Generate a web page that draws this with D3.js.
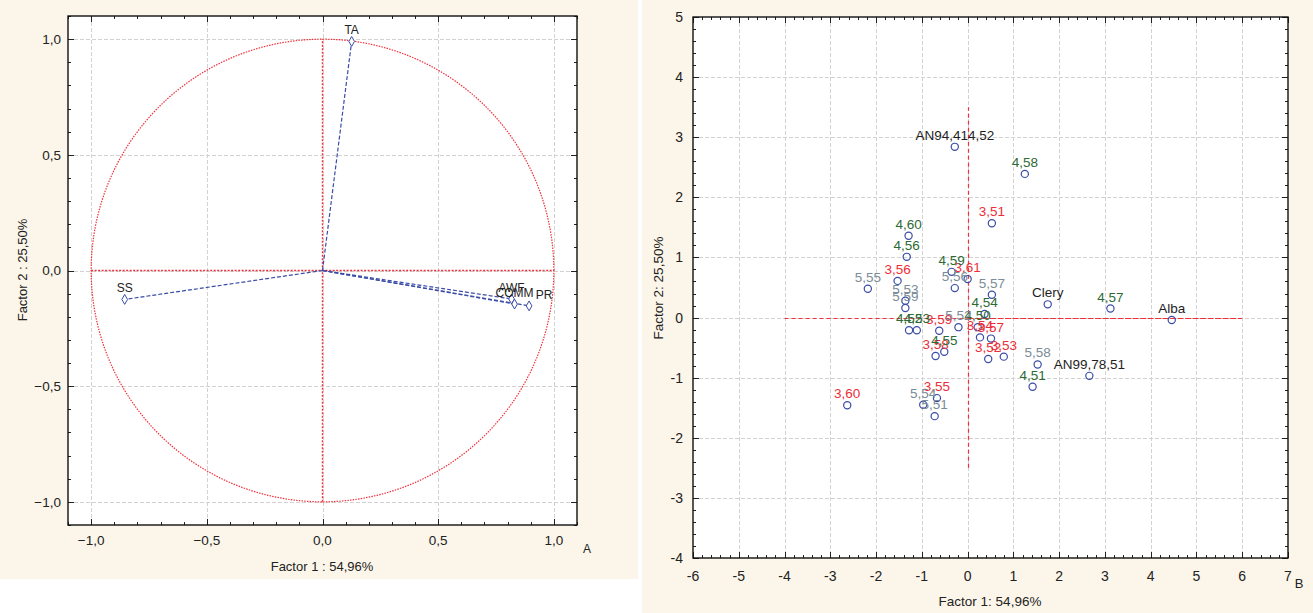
<!DOCTYPE html>
<html>
<head>
<meta charset="utf-8">
<script src="https://cdn.jsdelivr.net/npm/d3@7"></script>
<style>
  body { margin: 0; background: #ffffff; }
  svg text { font-family: "Liberation Sans", Arial, sans-serif; }
</style>
</head>
<body>
<div id="chart"></div>
<script>
// ---- data: panel A (loadings) ----
const varNames = ['TA', 'SS', 'AWF', 'COMM', 'PR'];
const varF1    = [0.126, -0.855, 0.817, 0.83, 0.893];
const varF2    = [0.99, -0.125, -0.123, -0.145, -0.153];
const loadTicks = [-1, -0.5, 0, 0.5, 1];

// ---- data: panel B (scores) ----
const obsLabels = ['AN94,414,52', 'Clery', 'Alba', 'AN99,78,51',
  '3,51', '3,52', '3,53', '3,54', '3,55', '3,56', '3,57', '3,58', '3,59', '3,60', '3,61',
  '4,50', '4,51', '4,52', '4,53', '4,54', '4,55', '4,56', '4,57', '4,58', '4,59', '4,60',
  '5,51', '5,52', '5,53', '5,54', '5,55', '5,56', '5,57', '5,58', '5,59'];
const obsF1 = [-0.28, 1.75, 4.46, 2.66,
  0.53, 0.45, 0.79, 0.27, -0.67, -1.53, 0.51, -0.70, -0.62, -2.63, 0.00,
  0.22, 1.42, -1.28, -1.11, 0.37, -0.51, -1.33, 3.12, 1.25, -0.35, -1.29,
  -0.72, -0.20, -1.36, -0.97, -2.18, -0.28, 0.53, 1.53, -1.36];
const obsF2 = [2.84, 0.22, -0.04, -0.97,
  1.57, -0.69, -0.65, -0.33, -1.34, 0.61, -0.35, -0.64, -0.22, -1.46, 0.64,
  -0.16, -1.15, -0.21, -0.21, 0.06, -0.57, 1.01, 0.15, 2.39, 0.76, 1.36,
  -1.64, -0.16, 0.28, -1.45, 0.48, 0.49, 0.38, -0.78, 0.16];
const obsGroup = ['k', 'k', 'k', 'k',
  '3', '3', '3', '3', '3', '3', '3', '3', '3', '3', '3',
  '4', '4', '4', '4', '4', '4', '4', '4', '4', '4', '4',
  '5', '5', '5', '5', '5', '5', '5', '5', '5'];
const scoreXTicks = [-6, -5, -4, -3, -2, -1, 0, 1, 2, 3, 4, 5, 6, 7];
const scoreYTicks = [-4, -3, -2, -1, 0, 1, 2, 3, 4, 5];

const groupColour = { k: '#1e1e1e', '3': '#ec2e38', '4': '#2e6a34', '5': '#7b8b97' };
const blue = '#3a4ca6';
const red  = '#f0303a';

const svg = d3.select('#chart').append('svg')
    .attr('width', 1313).attr('height', 613);

svg.append('rect').attr('x', 0).attr('y', 0).attr('width', 638).attr('height', 579).attr('fill', '#fcf6ea');
svg.append('rect').attr('x', 642).attr('y', 0).attr('width', 671).attr('height', 613).attr('fill', '#fcf6ea');

function comma(v, d) { return d3.format('.' + d + 'f')(v).replace('.', ','); }
const px = v => Math.round(v) + 0.5;

// draws frame, grid, inward ticks and tick labels
function panel(x, y, xt, yt, minorStep, fmt, fs, xLabY, yLabX) {
    const [x0, x1] = x.range(), [y0, y1] = y.range();
    const g = svg.append('g');
    g.append('rect').attr('x', x0).attr('y', y1).attr('width', x1 - x0).attr('height', y0 - y1).attr('fill', '#fff');
    g.selectAll('.gx').data(xt.filter(d => x(d) > x0 + 1 && x(d) < x1 - 1)).enter().append('line')
        .attr('x1', d => px(x(d))).attr('x2', d => px(x(d))).attr('y1', y1).attr('y2', y0)
        .attr('stroke', '#d2d2d2').attr('stroke-dasharray', '4,2');
    g.selectAll('.gy').data(yt.filter(d => y(d) < y0 - 1 && y(d) > y1 + 1)).enter().append('line')
        .attr('y1', d => px(y(d))).attr('y2', d => px(y(d))).attr('x1', x0).attr('x2', x1)
        .attr('stroke', '#d2d2d2').attr('stroke-dasharray', '4,2');
    const mx = d3.range(x.domain()[0], x.domain()[1] + 1e-9, minorStep);
    const my = d3.range(y.domain()[0], y.domain()[1] + 1e-9, minorStep);
    const isMajor = (v, arr) => arr.some(t => Math.abs(t - v) < 1e-6);
    mx.forEach(v => {
        const L = isMajor(v, xt) ? 6 : 3;
        g.append('line').attr('x1', px(x(v))).attr('x2', px(x(v))).attr('y1', y0).attr('y2', y0 - L).attr('stroke', '#222');
        g.append('line').attr('x1', px(x(v))).attr('x2', px(x(v))).attr('y1', y1).attr('y2', y1 + L).attr('stroke', '#222');
    });
    my.forEach(v => {
        const L = isMajor(v, yt) ? 6 : 3;
        g.append('line').attr('y1', px(y(v))).attr('y2', px(y(v))).attr('x1', x0).attr('x2', x0 + L).attr('stroke', '#222');
        g.append('line').attr('y1', px(y(v))).attr('y2', px(y(v))).attr('x1', x1).attr('x2', x1 - L).attr('stroke', '#222');
    });
    g.append('rect').attr('x', x0).attr('y', y1).attr('width', x1 - x0).attr('height', y0 - y1)
        .attr('fill', 'none').attr('stroke', '#111').attr('stroke-width', 1.4);
    g.selectAll('.tx').data(xt).enter().append('text')
        .attr('x', d => x(d)).attr('y', xLabY).attr('text-anchor', 'middle')
        .attr('font-size', fs).attr('fill', '#222').text(fmt);
    g.selectAll('.ty').data(yt).enter().append('text')
        .attr('x', yLabX).attr('y', d => y(d) + fs * 0.36).attr('text-anchor', 'end')
        .attr('font-size', fs).attr('fill', '#222').text(fmt);
    return g;
}

// ---------- Panel A ----------
const ax = d3.scaleLinear().domain([-1.1, 1.1]).range([68, 577]);
const ay = d3.scaleLinear().domain([-1.1, 1.1]).range([525, 16]);
panel(ax, ay, loadTicks, loadTicks, 0.1, d => comma(d, 1), 13.5, 545, 61);

const circ = d3.range(0, 361, 2).map(a => [Math.cos(a * Math.PI / 180), Math.sin(a * Math.PI / 180)]);
svg.append('path').datum(circ)
    .attr('d', d3.line().x(d => ax(d[0])).y(d => ay(d[1])))
    .attr('fill', 'none').attr('stroke', red).attr('stroke-width', 1.2).attr('stroke-dasharray', '1.5,1.2');
svg.append('line').attr('x1', ax(-1)).attr('x2', ax(1)).attr('y1', ay(0)).attr('y2', ay(0))
    .attr('stroke', red).attr('stroke-width', 1.4).attr('stroke-dasharray', '2,1.5');
svg.append('line').attr('x1', ax(0)).attr('x2', ax(0)).attr('y1', ay(-1)).attr('y2', ay(1))
    .attr('stroke', red).attr('stroke-width', 1.4).attr('stroke-dasharray', '2,1.5');

const vars = varNames.map((n, i) => ({ n, f1: varF1[i], f2: varF2[i] }));
svg.selectAll('.vec').data(vars).enter().append('line')
    .attr('x1', ax(0)).attr('y1', ay(0)).attr('x2', d => ax(d.f1)).attr('y2', d => ay(d.f2))
    .attr('stroke', blue).attr('stroke-width', 1.2).attr('stroke-dasharray', '4,2');
svg.selectAll('.vpt').data(vars).enter().append('path')
    .attr('d', d3.symbol(d3.symbolDiamond, 28))
    .attr('transform', d => `translate(${ax(d.f1)},${ay(d.f2)})`)
    .attr('fill', '#fff').attr('stroke', blue).attr('stroke-width', 1);
const labNudge = { PR: 15 };
svg.selectAll('.vlab').data(vars).enter().append('text')
    .attr('x', d => ax(d.f1) + (labNudge[d.n] || 0)).attr('y', d => ay(d.f2) - 7)
    .attr('text-anchor', 'middle').attr('font-size', 12).attr('fill', '#222').text(d => d.n);

svg.append('text').attr('x', 322).attr('y', 571).attr('text-anchor', 'middle')
    .attr('font-size', 13).attr('fill', '#222').text('Factor 1 : 54,96%');
svg.append('text').attr('transform', 'translate(27,270) rotate(-90)').attr('text-anchor', 'middle')
    .attr('font-size', 13).attr('fill', '#222').text('Factor 2 : 25,50%');
svg.append('text').attr('x', 587).attr('y', 553).attr('text-anchor', 'middle')
    .attr('font-size', 12).attr('fill', '#222').text('A');

// ---------- Panel B ----------
const bx = d3.scaleLinear().domain([-6, 7]).range([693, 1288]);
const by = d3.scaleLinear().domain([-4, 5]).range([558, 17]);
panel(bx, by, scoreXTicks, scoreYTicks, 0.2, d => String(d), 14, 581, 683);

svg.append('line').attr('x1', bx(-4)).attr('x2', bx(0)).attr('y1', px(by(0))).attr('y2', px(by(0)))
    .attr('stroke', red).attr('stroke-width', 1.2).attr('stroke-dasharray', '4,3');
svg.append('line').attr('x1', bx(0)).attr('x2', bx(6)).attr('y1', px(by(0))).attr('y2', px(by(0)))
    .attr('stroke', red).attr('stroke-width', 1.2).attr('stroke-dasharray', '6,1.5');
svg.append('line').attr('x1', px(bx(0))).attr('x2', px(bx(0))).attr('y1', by(-2.5)).attr('y2', by(3.5))
    .attr('stroke', red).attr('stroke-width', 1.2).attr('stroke-dasharray', '4,3');

const obs = obsLabels.map((n, i) => ({ n, f1: obsF1[i], f2: obsF2[i], g: obsGroup[i] }));
svg.selectAll('.opt').data(obs).enter().append('circle')
    .attr('cx', d => bx(d.f1)).attr('cy', d => by(d.f2)).attr('r', 3.6)
    .attr('fill', 'none').attr('stroke', blue).attr('stroke-width', 1.2);
svg.selectAll('.olab').data(obs).enter().append('text')
    .attr('x', d => bx(d.f1)).attr('y', d => by(d.f2) - 7)
    .attr('text-anchor', 'middle').attr('font-size', 13.5)
    .attr('fill', d => groupColour[d.g]).text(d => d.n);

svg.append('text').attr('x', 990).attr('y', 606).attr('text-anchor', 'middle')
    .attr('font-size', 13.5).attr('fill', '#222').text('Factor 1: 54,96%');
svg.append('text').attr('transform', 'translate(663,288) rotate(-90)').attr('text-anchor', 'middle')
    .attr('font-size', 13.5).attr('fill', '#222').text('Factor 2: 25,50%');
svg.append('text').attr('x', 1299).attr('y', 588).attr('text-anchor', 'middle')
    .attr('font-size', 13).attr('fill', '#222').text('B');
</script>
</body>
</html>
